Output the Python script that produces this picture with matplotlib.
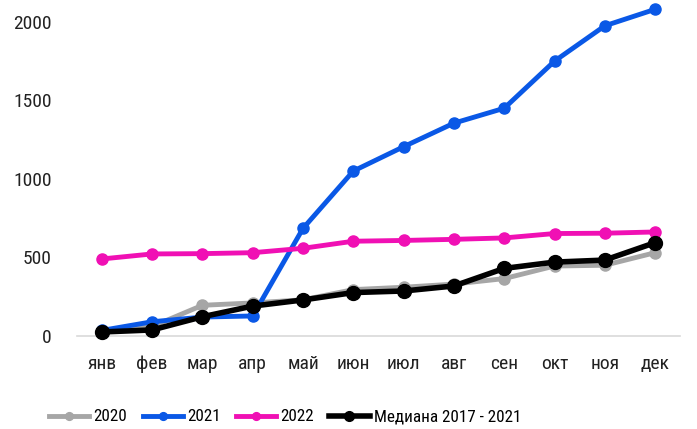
import matplotlib
matplotlib.use("Agg")
import matplotlib.pyplot as plt
from matplotlib import font_manager

months = ["янв", "фев", "мар", "апр", "май", "июн", "июл", "авг", "сен", "окт", "ноя", "дек"]
s2020 = [30, 60, 195, 210, 230, 295, 310, 330, 365, 445, 450, 530]
s2021 = [35, 90, 120, 127, 685, 1050, 1205, 1355, 1450, 1750, 1975, 2080]
s2022 = [490, 522, 524, 530, 558, 603, 608, 615, 624, 652, 654, 662]
median = [25, 38, 122, 190, 229, 276, 286, 318, 430, 470, 483, 594]

# condensed face if there is one, else Roboto
names = set(f.name for f in font_manager.fontManager.ttflist)
fam = "Roboto"
for cand in ["Roboto Condensed", "Liberation Sans Narrow", "Open Sans Condensed"]:
    if cand in names:
        fam = cand
        break
plt.rcParams['font.family'] = [fam, 'DejaVu Sans']
plt.rcParams['font.size'] = 14

fig = plt.figure(figsize=(6.97, 4.29), dpi=100)
ax = fig.add_axes([0.110, 0.217, 0.866, 0.732])

x = range(len(months))
ax.plot(x, s2020, color="#A6A6A6", lw=3.5, marker="o", ms=8, label="2020", clip_on=False, zorder=3)
ax.plot(x, s2021, color="#0A58E6", lw=3.5, marker="o", ms=8, label="2021", clip_on=False, zorder=4)
ax.plot(x, s2022, color="#F010B4", lw=3.5, marker="o", ms=8, label="2022", clip_on=False, zorder=4)
ax.plot(x, median, color="black", lw=4, marker="o", ms=10, label="Медиана 2017 - 2021", clip_on=False, zorder=5)

ax.set_xlim(-0.5, 11.5)
ax.set_ylim(0, 2000)
ax.set_yticks([0, 500, 1000, 1500, 2000])
ax.set_xticks(list(x))
ax.set_xticklabels(months)
for s in ["top", "right", "left"]:
    ax.spines[s].set_visible(False)
ax.spines["bottom"].set_color("#D9D9D9")
ax.spines["bottom"].set_linewidth(1.2)
ax.tick_params(axis="both", length=0, colors="#222222")
ax.tick_params(axis="x", pad=14)
ax.tick_params(axis="y", pad=18)

fig.legend(*ax.get_legend_handles_labels(), loc="center", bbox_to_anchor=(0.409, 0.028), ncol=4,
           frameon=False, handlelength=2.35, handletextpad=0.25, columnspacing=0.9,
           markerscale=0.7, fontsize=12.3, borderpad=0, borderaxespad=0)

fig.savefig("out.png", dpi=100)
